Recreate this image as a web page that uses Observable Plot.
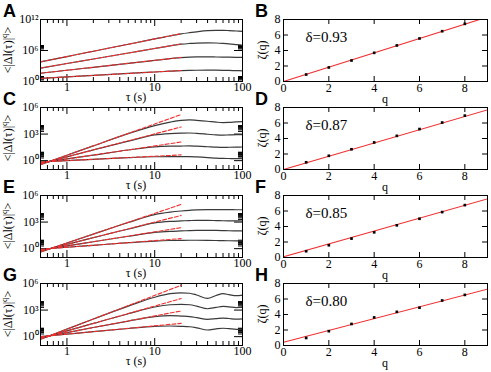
<!DOCTYPE html>
<html><head><meta charset="utf-8">
<script src="https://cdn.jsdelivr.net/npm/d3@7"></script>
<script src="https://cdn.jsdelivr.net/npm/@observablehq/plot@0.6"></script>
<style>
body{margin:0;background:#fff}
#c{position:relative;width:491px;height:372px;overflow:hidden;font-family:"Liberation Serif",serif;color:#000;background:#fff}
#c svg{position:absolute;overflow:visible}
.let{position:absolute;font:bold 18px "Liberation Sans",Arial,sans-serif;line-height:1}
.yt{position:absolute;transform:translate(-50%,-50%) rotate(-90deg);white-space:nowrap;font-size:12px;line-height:1}
.yt sup{font-size:9px;vertical-align:5px;line-height:0}
.xt{position:absolute;transform:translate(-50%,-50%);white-space:nowrap;font-size:12px;line-height:1}
</style></head><body><div id="c"></div><script>
// ---------- data ----------
const taus = [0.5, 1, 2, 5, 10, 15, 20, 25, 30, 40, 50, 60, 70, 85, 100];
const fitTau = [0.5, 20];
// log10 of <|Δl(τ)|^q>, four curves per panel (top to bottom)
const A_curves = [
  [3.8, 4.83, 5.86, 7.21, 8.24, 8.84, 9.22, 9.45, 9.62, 9.84, 9.9, 9.9, 9.86, 9.77, 9.7],
  [2.6, 3.48, 4.35, 5.52, 6.39, 6.9, 7.22, 7.36, 7.44, 7.48, 7.45, 7.38, 7.3, 7.15, 7.02],
  [1.6, 2.18, 2.75, 3.52, 4.09, 4.42, 4.62, 4.71, 4.75, 4.76, 4.74, 4.72, 4.7, 4.68, 4.67],
  [0.6, 0.89, 1.17, 1.56, 1.84, 2.0, 2.1, 2.15, 2.18, 2.2, 2.19, 2.17, 2.15, 2.1, 2.07]
];
const A_fits = [[3.8, 9.27], [2.6, 7.27], [1.6, 4.67], [0.6, 2.13]];
const C_curves = [
  [-0.45, 0.61, 1.67, 3.05, 3.95, 4.35, 4.55, 4.6, 4.55, 4.45, 4.35, 4.3, 4.32, 4.37, 4.4],
  [-0.35, 0.43, 1.21, 2.2, 2.9, 3.05, 3.1, 3.12, 3.08, 2.98, 2.9, 2.88, 2.9, 2.93, 2.94],
  [-0.25, 0.19, 0.63, 1.2, 1.55, 1.63, 1.65, 1.66, 1.63, 1.57, 1.52, 1.5, 1.51, 1.53, 1.54],
  [-0.15, 0.0, 0.15, 0.34, 0.44, 0.46, 0.45, 0.45, 0.42, 0.35, 0.28, 0.25, 0.24, 0.23, 0.23]
];
const C_fits = [[-0.45, 5.2], [-0.35, 3.8], [-0.25, 2.1], [-0.15, 0.65]];
const E_curves = [
  [-0.37, 0.64, 1.64, 2.95, 3.85, 4.12, 4.25, 4.33, 4.38, 4.4, 4.4, 4.4, 4.4, 4.39, 4.39],
  [-0.27, 0.49, 1.24, 2.22, 2.9, 3.07, 3.13, 3.17, 3.19, 3.19, 3.17, 3.15, 3.14, 3.13, 3.12],
  [-0.17, 0.31, 0.78, 1.4, 1.83, 1.95, 2.0, 2.04, 2.06, 2.07, 2.06, 2.04, 2.02, 2.01, 2.0],
  [-0.07, 0.16, 0.38, 0.67, 0.86, 0.92, 0.94, 0.95, 0.95, 0.94, 0.92, 0.9, 0.89, 0.88, 0.87]
];
const E_fits = [[-0.37, 4.99], [-0.27, 3.75], [-0.17, 2.37], [-0.07, 1.13]];
const G_curves = [
  [-0.3, 0.85, 1.99, 3.45, 4.45, 4.85, 4.95, 4.9, 4.7, 4.32, 4.65, 4.85, 4.75, 4.62, 4.68],
  [-0.2, 0.65, 1.49, 2.58, 3.35, 3.6, 3.65, 3.6, 3.45, 3.15, 3.3, 3.42, 3.36, 3.28, 3.33],
  [-0.1, 0.46, 1.03, 1.75, 2.25, 2.37, 2.32, 2.27, 2.15, 1.95, 2.03, 2.1, 2.05, 1.97, 2.0],
  [0.0, 0.28, 0.56, 0.92, 1.15, 1.2, 1.17, 1.12, 1.0, 0.75, 0.88, 0.95, 0.9, 0.83, 0.85]
];
const G_fits = [[-0.3, 5.8], [-0.2, 4.3], [-0.1, 2.9], [0.0, 1.5]];

const qs = [1, 2, 3, 4, 5, 6, 7, 8];
const fitQ = [0, 9];
const B_zeta = [0.9, 1.81, 2.71, 3.7, 4.65, 5.55, 6.49, 7.44];
const B_fit = [0, 8.32];
const D_zeta = [0.93, 1.77, 2.61, 3.49, 4.34, 5.22, 6.06, 6.95];
const D_fit = [0, 7.7];
const F_zeta = [0.81, 1.58, 2.44, 3.25, 4.15, 5.0, 5.86, 6.76];
const F_fit = [0.09, 7.57];
const H_zeta = [0.97, 1.85, 2.78, 3.62, 4.34, 4.88, 5.81, 6.53];
const H_fit = [0.42, 7.28];
const deltas = ["δ=0.93", "δ=0.87", "δ=0.85", "δ=0.80"];
const letters = [["A", "B"], ["C", "D"], ["E", "F"], ["G", "H"]];

// tick values
const xMajorL = [1, 10, 100];
const xMinorL = [0.6, 0.7, 0.8, 0.9, 2, 3, 4, 5, 6, 7, 8, 9, 20, 30, 40, 50, 60, 70, 80, 90];
const yMajorA = [0, 6, 12], yMinorDecA = [0, 6], yDomA = [0, 12];
const yMajorC = [0, 3, 6], yMinorDecC = [0, 3], yDomC = [-1, 6];
const xMajorR = [0, 2, 4, 6, 8];
const yMajorR = [0, 2, 4, 6, 8];

// ---------- layout ----------
const rowTop = [19, 107, 195, 283];
const FH = 62;
const LX0 = 40, LX1 = 242, RX0 = 283, RX1 = 487;
const root = document.getElementById("c");
const SUP = {"0": "⁰", "1": "¹", "2": "²", "3": "³", "6": "⁶", "-": "⁻"};
const sup = n => String(n).split("").map(c => SUP[c]).join("");
const baseStyle = {background: "transparent", fontFamily: "'Liberation Serif', serif", fontSize: "12px", color: "#000", overflow: "visible"};

function place(el, left, top) { el.style.left = left + "px"; el.style.top = top + "px"; root.appendChild(el); }
function div(cls, html, left, top) { const d = document.createElement("div"); d.className = cls; d.innerHTML = html; place(d, left, top); }

function leftPanel(row, curves, fits, yDom, yMajor, yMinorDec) {
  const top = rowTop[row];
  const FW = LX1 - LX0;
  const rows = [], redRows = [];
  curves.forEach((arr, s) => arr.forEach((v, i) => rows.push({tau: taus[i], val: 10 ** v, s})));
  fits.forEach((arr, s) => arr.forEach((v, i) => redRows.push({tau: fitTau[i], val: 10 ** v, s})));
  const yMaj = yMajor.map(e => 10 ** e);
  const yMin = yMinorDec.flatMap(e => [2, 3, 4, 5, 6, 7, 8, 9].map(m => m * 10 ** e));
  const svg = Plot.plot({
    width: 252, height: FH + 20, marginTop: 2, marginBottom: 18, marginLeft: LX0, marginRight: 10,
    x: {type: "log", domain: [0.5, 100]},
    y: {type: "log", domain: yDom.map(e => 10 ** e)},
    style: baseStyle,
    marks: [
      Plot.tickX(xMinorL, {x: d => d, insetTop: FH - 4, stroke: "#000"}),
      Plot.tickX(xMinorL, {x: d => d, insetBottom: FH - 4, stroke: "#000"}),
      Plot.tickX(xMajorL, {x: d => d, insetTop: FH - 7, stroke: "#000"}),
      Plot.tickX(xMajorL, {x: d => d, insetBottom: FH - 7, stroke: "#000"}),
      Plot.tickY(yMin, {y: d => d, insetRight: FW - 4, stroke: "#000"}),
      Plot.tickY(yMin, {y: d => d, insetLeft: FW - 4, stroke: "#000"}),
      Plot.tickY(yMaj, {y: d => d, insetRight: FW - 8, stroke: "#000"}),
      Plot.tickY(yMaj, {y: d => d, insetLeft: FW - 8, stroke: "#000"}),
      Plot.axisX({ticks: xMajorL, tickSize: 0, tickPadding: 1, tickFormat: d => String(d), label: null}),
      Plot.axisY({ticks: yMaj, tickSize: 0, tickPadding: 2, tickFormat: d => "10" + sup(Math.round(Math.log10(d))), label: null}),
      Plot.line(rows, {x: "tau", y: "val", z: "s", curve: "monotone-x", stroke: "#3a3a3a", strokeWidth: 1.2}),
      Plot.line(redRows, {x: "tau", y: "val", z: "s", stroke: "#f03030", strokeWidth: 1.1, strokeDasharray: "4,2"}),
      Plot.frame({stroke: "#000"})
    ]
  });
  place(svg, 0, top - 2);
  div("let", letters[row][0], 3, top - 17);
  div("yt", "&lt;|Δl(τ)|<sup>q</sup>&gt;", 8, top + FH / 2);
  div("xt", "τ (s)", 136, top + FH + 16);
}

function rightPanel(row, zeta, fit, delta) {
  const top = rowTop[row];
  const FW = RX1 - RX0;
  const pts = qs.map((q, i) => ({q, z: zeta[i]}));
  const line = fitQ.map((q, i) => ({q, z: fit[i]}));
  const svg = Plot.plot({
    width: 241, height: FH + 20, marginTop: 2, marginBottom: 18, marginLeft: RX0 - 250, marginRight: 491 - RX1,
    x: {domain: [0, 9]},
    y: {domain: [0, 8]},
    style: baseStyle,
    marks: [
      Plot.tickX(xMajorR, {x: d => d, insetTop: FH - 5, stroke: "#000"}),
      Plot.tickX(xMajorR, {x: d => d, insetBottom: FH - 5, stroke: "#000"}),
      Plot.tickY(yMajorR, {y: d => d, insetRight: FW - 5, stroke: "#000"}),
      Plot.tickY(yMajorR, {y: d => d, insetLeft: FW - 5, stroke: "#000"}),
      Plot.axisX({ticks: xMajorR, tickSize: 0, tickPadding: 2, label: null}),
      Plot.axisY({ticks: yMajorR, tickSize: 0, tickPadding: 3, label: null}),
      Plot.line(line, {x: "q", y: "z", stroke: "#f03030", strokeWidth: 1.1, clip: true}),
      Plot.dot(pts, {x: "q", y: "z", symbol: "square", r: 1.5, fill: "#000"}),
      Plot.text([delta], {text: d => d, frameAnchor: "top-left", dx: 22, dy: 18, textAnchor: "start", lineAnchor: "middle", fontSize: 15}),
      Plot.frame({stroke: "#000"})
    ]
  });
  place(svg, 250, top - 2);
  div("let", letters[row][1], 255, top - 17);
  div("yt", "ζ(q)", 262, top + FH / 2);
  div("xt", "q", (RX0 + RX1) / 2, top + FH + 18);
}

leftPanel(0, A_curves, A_fits, yDomA, yMajorA, yMinorDecA);
leftPanel(1, C_curves, C_fits, yDomC, yMajorC, yMinorDecC);
leftPanel(2, E_curves, E_fits, yDomC, yMajorC, yMinorDecC);
leftPanel(3, G_curves, G_fits, yDomC, yMajorC, yMinorDecC);
rightPanel(0, B_zeta, B_fit, deltas[0]);
rightPanel(1, D_zeta, D_fit, deltas[1]);
rightPanel(2, F_zeta, F_fit, deltas[2]);
rightPanel(3, H_zeta, H_fit, deltas[3]);
</script></body></html>
